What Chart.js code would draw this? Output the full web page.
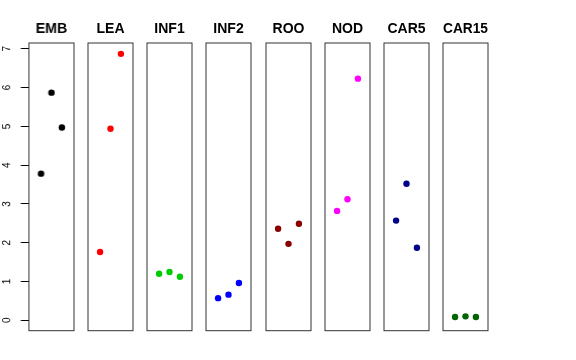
<!DOCTYPE html>
<html>
<head>
<meta charset="utf-8">
<script src="https://cdn.jsdelivr.net/npm/chart.js@4/dist/chart.umd.min.js"></script>
<style>
    body { margin: 0; background: #fff; }
    #wrap { position: relative; width: 576px; height: 360px; overflow: hidden; }
    #wrap canvas { position: absolute; top: 0; }
</style>
</head>
<body>
<div id="wrap"></div>
<script>
// Panel names, colours and the three values in each panel
const panels = ["EMB", "LEA", "INF1", "INF2", "ROO", "NOD", "CAR5", "CAR15"];
const colors = ["#000000", "#FF0000", "#00CD00", "#0000FF", "#8B0000", "#FF00FF", "#00008B", "#006400"];
const xPos = [1, 2, 3];
const embVals = [3.78, 5.87, 4.97];
const leaVals = [1.76, 4.94, 6.87];
const inf1Vals = [1.20, 1.245, 1.12];
const inf2Vals = [0.57, 0.66, 0.96];
const rooVals = [2.36, 1.97, 2.49];
const nodVals = [2.82, 3.12, 6.23];
const car5Vals = [2.57, 3.52, 1.87];
const car15Vals = [0.085, 0.10, 0.085];
const yTicks = [0, 1, 2, 3, 4, 5, 6, 7];

const allVals = [embVals, leaVals, inf1Vals, inf2Vals, rooVals, nodVals, car5Vals, car15Vals];

// Layout of the panel strip
const firstLeft = 28.5;
const step = 59.25;
const boxW = 45;
const side = 7;        // spare room either side of a panel for its title
const axisPad = 20.5;
const tickLen = 8;

// Draw the box round each panel
const boxPlugin = {
    id: 'box',
    afterDraw(chart) {
        const a = chart.chartArea;
        const ctx = chart.ctx;
        ctx.save();
        ctx.strokeStyle = '#333';
        ctx.lineWidth = 1;
        ctx.strokeRect(a.left, a.top, a.right - a.left, a.bottom - a.top);
        ctx.restore();
    }
};

// Rotated tick labels on the y axis (first panel only)
const yLabelPlugin = {
    id: 'yLabels',
    afterDraw(chart) {
        const scale = chart.scales.y;
        const ctx = chart.ctx;
        ctx.save();
        ctx.fillStyle = '#000';
        ctx.font = '10px "Liberation Sans", Arial, sans-serif';
        ctx.textAlign = 'center';
        ctx.textBaseline = 'middle';
        yTicks.forEach((v) => {
            const y = scale.getPixelForValue(v);
            ctx.save();
            ctx.translate(7.5, y);
            ctx.rotate(-Math.PI / 2);
            ctx.fillText(String(v), 0, 0);
            ctx.restore();
        });
        ctx.restore();
    }
};

const wrap = document.getElementById('wrap');

panels.forEach((name, i) => {
    const first = i === 0;
    const canvas = document.createElement('canvas');
    const left = first ? 0 : firstLeft + i * step - side;
    const width = first ? firstLeft + boxW + 1 : boxW + 2 * side;
    canvas.width = width;
    canvas.height = 360;
    canvas.style.left = left + 'px';
    canvas.style.width = width + 'px';
    canvas.style.height = '360px';
    wrap.appendChild(canvas);

    new Chart(canvas, {
        type: 'scatter',
        data: {
            datasets: [{
                data: xPos.map((x, k) => ({ x: x, y: allVals[i][k] })),
                backgroundColor: colors[i],
                borderWidth: 0,
                pointRadius: 3.2
            }]
        },
        options: {
            responsive: false,
            animation: false,
            layout: {
                autoPadding: false,
                padding: { left: first ? axisPad : side, right: first ? 1 : side, top: 0, bottom: 29.3 }
            },
            scales: {
                x: { type: 'linear', min: -0.16, max: 4.16, display: false },
                y: {
                    type: 'linear',
                    min: -0.27,
                    max: 7.15,
                    display: first,
                    afterBuildTicks: (s) => { s.ticks = yTicks.map((v) => ({ value: v })); },
                    border: { display: false },
                    grid: { drawOnChartArea: false, drawTicks: true, tickLength: tickLen, color: '#000' },
                    ticks: { display: false }
                }
            },
            plugins: {
                legend: { display: false },
                tooltip: { enabled: false },
                title: {
                    display: true,
                    text: name,
                    fullSize: !first,
                    color: '#000',
                    font: { family: '"Liberation Sans", Arial, sans-serif', size: 14, weight: 'bold' },
                    padding: { top: 20.6, bottom: 5.6 }
                }
            }
        },
        plugins: first ? [boxPlugin, yLabelPlugin] : [boxPlugin]
    });
});
</script>
</body>
</html>
